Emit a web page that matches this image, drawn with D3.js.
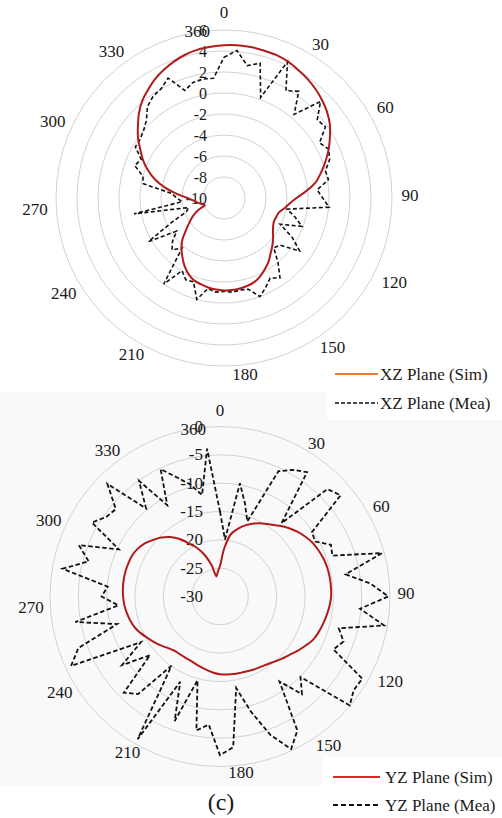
<!DOCTYPE html>
<html>
<head>
<meta charset="utf-8">
<script src="https://cdn.jsdelivr.net/npm/d3@7"></script>
<style>
  html, body { margin: 0; padding: 0; background: #fff; }
  text { font-family: "Liberation Serif", Tinos, "Times New Roman", Times, "DejaVu Serif", serif !important; }
</style>
</head>
<body>
<svg id="chart" width="502" height="818"></svg>
<script>
// ---------------- DATA ----------------
// angle categories (degrees), 5-degree steps
const angles = [0,5,10,15,20,25,30,35,40,45,50,55,60,65,70,75,80,85,90,95,100,105,110,115,
  120,125,130,135,140,145,150,155,160,165,170,175,180,185,190,195,200,205,210,215,220,225,230,235,
  240,245,250,255,260,265,270,275,280,285,290,295,300,305,310,315,320,325,330,335,340,345,350,355];

const xzSim = [4.55,4.6,4.6,4.55,4.5,4.35,4.1,3.85,3.55,3.2,2.8,2.3,1.65,1.0,0.3,-0.4,-1.1,-2.1,
  -3.1,-3.75,-4.2,-4.6,-4.7,-4.75,-4.6,-4.3,-3.9,-3.5,-3.1,-2.6,-2.2,-1.8,-1.5,-1.35,-1.25,-1.2,
  -1.2,-1.25,-1.35,-1.5,-1.65,-2.0,-2.5,-3.1,-3.7,-4.4,-5.3,-6.0,-6.6,-7.3,-8.05,-7.8,-7.45,-7.1,
  -6.5,-5.5,-4.3,-3.2,-2.3,-1.5,-0.8,0.0,0.7,1.45,2.1,2.6,3.1,3.5,3.85,4.15,4.35,4.45];

const xzMea = [3.4,4.1,2.8,3.3,0.2,4.3,1.8,2.4,0.4,3.0,1.6,1.8,0.5,1.0,0.7,0.0,0.1,-1.1,
  -0.6,0.05,-3.9,-3.0,-2.1,-4.1,-2.5,-1.2,-3.0,-3.3,-2.0,-0.7,-1.2,-0.6,0.0,-1.0,-1.1,-1.0,
  -1.1,-1.0,-1.25,0.0,-1.5,-1.4,-2.0,0.0,-3.8,-3.0,-3.6,-4.5,-1.7,-4.5,-6.2,-6.5,-1.3,-6.0,
  -5.5,-5.0,-2.2,-2.0,-0.95,-1.3,-0.25,-0.25,0.0,0.45,1.35,1.8,2.0,2.6,0.9,1.4,1.5,1.45];

const yzSim = [-24.6,-21.5,-18.8,-17.6,-16.6,-15.8,-15.1,-14.5,-13.7,-12.9,-12.2,-11.6,-11.1,-10.8,
  -10.55,-10.4,-10.35,-10.35,-10.4,-10.6,-10.9,-11.2,-11.5,-11.9,-12.6,-13.3,-14.0,-14.5,-15.0,
  -15.4,-15.65,-15.8,-15.95,-16.05,-16.1,-16.2,-16.3,-16.5,-16.8,-17.1,-17.35,-17.55,-17.6,-17.6,
  -17.5,-17.1,-16.5,-15.9,-15.3,-14.6,-14.0,-13.6,-13.3,-13.05,-12.9,-12.8,-12.75,-12.75,-12.8,
  -12.9,-13.2,-13.7,-14.5,-15.3,-16.3,-17.6,-19.3,-20.6,-22.3,-24.3,-26.4,-25.6];

const yzMea = [-15,-19.9,-9.7,-13,-15.9,-5.6,-4.2,-3.2,-13.1,-3.2,-2.2,-10.2,-10.6,-8.4,-8.9,-0.4,
  -7.5,-3.4,-0.3,-5.2,-0.6,-8.3,-6.8,-7.9,-1.0,-1.2,-0.1,-9.9,-7.5,-11.7,-2.7,-0.3,-4.0,-9.0,
  -13.6,-3.3,-2.0,-7.3,-6.0,-14.7,-6.6,-13.4,-0.9,-15.1,-7.5,-6.0,-13.9,-8.9,-13.9,-1.0,-3.4,
  -11.2,-4.1,-12.0,-9.1,-10.1,-1.8,-6.0,-3.5,-10.3,-3.9,-5.5,-6.0,-1.9,-9.7,-5.1,-11.4,-5.2,
  -7.6,-9.5,-11.8,-3.8];

const categoryLabels = [0,30,60,90,120,150,180,210,240,270,300,330,360];
const xzTicks = [6,4,2,0,-2,-4,-6,-8,-10];
const yzTicks = [0,-5,-10,-15,-20,-25,-30];
const xzLegend = ["XZ Plane (Sim)", "XZ Plane (Mea)"];
const yzLegend = ["YZ Plane (Sim)", "YZ Plane (Mea)"];
const figLabel = "(c)";

// ---------------- STYLE / LAYOUT ----------------
const labelR = 185;
const labelAngle = v => (v === 360 ? -9 : v);
const labelNudge = {0:[0,-1],30:[4,7],60:[1,2],90:[1,-3],120:[10,-8],150:[16,-11],180:[21,-9],
  210:[0,-4],240:[0,3],270:[-4,11],300:[-11,16],330:[-20,14],360:[1,8]};

const svg = d3.select("#chart");
svg.append("rect").attr("x",0).attr("y",0).attr("width",502).attr("height",818).attr("fill","#fff");
svg.append("rect").attr("x",0).attr("y",392).attr("width",502).attr("height",393).attr("fill","#f9f9f9");
svg.append("rect").attr("x",327).attr("y",355).attr("width",175).attr("height",65).attr("fill","#fff");
svg.append("rect").attr("x",323).attr("y",757).attr("width",179).attr("height",61).attr("fill","#fff");

function polar(cfg) {
  const g = svg.append("g").attr("transform", `translate(${cfg.cx},${cfg.cy})`);
  const r = d3.scaleLinear().domain(cfg.domain).range([0, cfg.R]);

  g.selectAll("circle.ring").data(cfg.ticks.filter(t => r(t) > 0)).join("circle")
    .attr("r", d => r(d)).attr("fill", "none").attr("stroke", "#d2d2d2").attr("stroke-width", 1);

  g.selectAll("text.tick").data(cfg.ticks).join("text")
    .attr("x", -17).attr("y", d => -r(d))
    .attr("text-anchor", "end").attr("dominant-baseline", "central")
    .attr("fill", "#1a1a1a")
    .style("font-size", cfg.tickSize + "px").text(d => d);

  g.selectAll("text.cat").data(categoryLabels).join("text")
    .attr("x", d => {
      const a = labelAngle(d) * Math.PI / 180;
      const R = d === 360 ? 177 : labelR;
      return R * Math.sin(a) + labelNudge[d][0];
    })
    .attr("y", d => {
      const a = labelAngle(d) * Math.PI / 180;
      const R = d === 360 ? 177 : labelR;
      return -R * Math.cos(a) + labelNudge[d][1];
    })
    .attr("text-anchor", "middle").attr("dominant-baseline", "central")
    .attr("fill", "#1a1a1a")
    .style("font-size", "17px").text(d => d);

  const pts = vals => angles.map((a, i) => ({a: a, v: vals[i]}));
  const simLine = d3.lineRadial().angle(d => d.a * Math.PI / 180).radius(d => r(d.v))
    .curve(d3.curveCatmullRomClosed.alpha(0.5));
  const meaLine = d3.lineRadial().angle(d => d.a * Math.PI / 180).radius(d => r(d.v))
    .curve(d3.curveLinearClosed);

  g.append("path").attr("d", meaLine(pts(cfg.mea))).attr("fill", "none")
    .attr("stroke", "#111").attr("stroke-width", cfg.meaW).attr("stroke-dasharray", cfg.dash);
  g.append("path").attr("d", simLine(pts(cfg.sim))).attr("fill", "none")
    .attr("stroke", "#b01c1c").attr("stroke-width", 2);
}

polar({cx: 224, cy: 198, R: 168, domain: [-10, 6], ticks: xzTicks, tickSize: 16,
  sim: xzSim, mea: xzMea, dash: "4,2.5", meaW: 1.6});
polar({cx: 220, cy: 596.5, R: 170, domain: [-30, 0], ticks: yzTicks, tickSize: 17,
  sim: yzSim, mea: yzMea, dash: "4.5,2.5", meaW: 1.8});

function legend(x1, x2, tx, y1, y2, simColor, names, dash, w) {
  svg.append("line").attr("x1", x1).attr("x2", x2).attr("y1", y1).attr("y2", y1)
    .attr("stroke", simColor).attr("stroke-width", 2);
  svg.append("text").attr("x", tx).attr("y", y1).attr("dominant-baseline", "central")
    .attr("fill", "#1a1a1a").style("font-size", "17px").text(names[0]);
  svg.append("line").attr("x1", x1).attr("x2", x2).attr("y1", y2).attr("y2", y2)
    .attr("stroke", "#111").attr("stroke-width", w).attr("stroke-dasharray", dash);
  svg.append("text").attr("x", tx).attr("y", y2).attr("dominant-baseline", "central")
    .attr("fill", "#1a1a1a").style("font-size", "17px").text(names[1]);
}
legend(335, 378, 380, 374, 403, "#f37a32", xzLegend, "4,2", 1.6);
legend(333, 380, 385, 777, 805, "#e3222a", yzLegend, "5,3", 2.2);

svg.append("text").attr("x", 221).attr("y", 802).attr("text-anchor", "middle")
  .attr("dominant-baseline", "central").attr("fill", "#1a1a1a")
  .style("font-size", "24px").text(figLabel);
</script>
</body>
</html>
